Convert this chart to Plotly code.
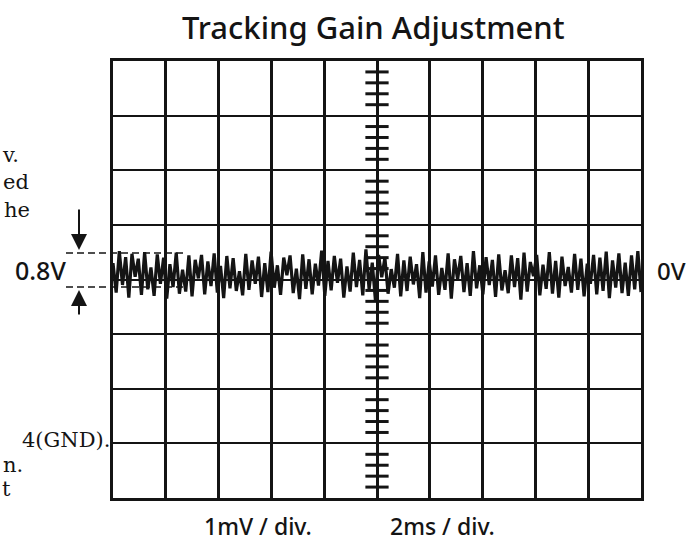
import numpy as np
import plotly.graph_objects as go

# canvas and plot box (pixels)
W, H = 695, 541
M_L, M_R, M_T, M_B = 113, 54, 61, 43

TITLE = "Tracking Gain Adjustment"
V_SCALE = "1mV / div."
T_SCALE = "2ms / div."
LEVEL_LABEL = "0.8V"
ZERO_LABEL = "0V"

# screen divisions
n_cols = 10
n_rows = 8

# fine graduation marks on the centre vertical axis (div)
grad_marks = [round(v, 1) for v in np.arange(-3.8, 4.0, 0.2) if abs(v - round(v)) > 0.05]

trace_div = [
    0.30, -0.24, 0.52, -0.10, 0.41, -0.33, 0.47, 0.05, 0.38, -0.28,
    0.50, -0.18, 0.22, -0.30, 0.46, -0.08, 0.40, -0.35, 0.28, -0.14,
    0.49, -0.26, 0.18, -0.22, 0.44, -0.31, 0.36, 0.02, 0.45, -0.27,
    0.33, -0.12, 0.48, -0.24, 0.25, -0.34, 0.43, -0.16, 0.39, -0.21,
    0.15, -0.29, 0.47, -0.19, 0.35, -0.08, 0.42, -0.32, 0.30, -0.23,
    0.51, -0.15, 0.26, -0.28, 0.40, 0.08, 0.44, -0.25, 0.20, -0.36,
    0.46, -0.17, 0.37, -0.27, 0.29, -0.11, 0.53, -0.30, 0.34, -0.20,
    0.43, -0.06, 0.38, -0.33, 0.24, -0.22, 0.49, -0.14, 0.36, -0.29,
    0.55, -0.18, 0.31, -0.38, 0.45, 0.04, 0.40, -0.26, 0.19, -0.15,
    0.47, -0.31, 0.35, -0.21, 0.42, -0.09, 0.28, -0.34, 0.50, -0.24,
    0.33, -0.13, 0.44, -0.28, 0.21, -0.19, 0.48, -0.35, 0.37, 0.00,
    0.43, -0.23, 0.30, -0.30, 0.52, -0.16, 0.26, -0.27, 0.41, -0.10,
    0.36, -0.32, 0.46, -0.20, 0.17, -0.25, 0.44, -0.14, 0.39, -0.37,
    0.49, -0.22, 0.32, 0.06, 0.45, -0.29, 0.27, -0.17, 0.50, -0.26,
    0.34, -0.33, 0.42, -0.12, 0.23, -0.24, 0.47, -0.19, 0.38, -0.31,
    0.29, -0.08, 0.45, -0.27, 0.40, -0.21, 0.51, -0.34, 0.35, -0.15,
    0.48, -0.25, 0.31, -0.30, 0.44, -0.18, 0.52, -0.23,
]

# clipped body text from the facing page (left edge)
side_text = ["v.", "ed", "he", "4(GND).", "n.", "t"]
side_text_y = [155, 182, 210, 440, 465, 489]
side_text_right = [21, 31, 32, 112, 25, 13]

INK = "#141414"
plot_w = W - M_L - M_R
plot_h = H - M_T - M_B


def px_x(px):
    return (px - M_L) / plot_w


def px_y(py):
    return (H - M_B - py) / plot_h


fig = go.Figure()

# graduated centre axis
gx, gy = [], []
for v in grad_marks:
    gx += [n_cols / 2 - 0.22, n_cols / 2 + 0.22, None]
    gy += [v, v, None]
fig.add_trace(go.Scatter(x=gx, y=gy, mode="lines",
                         line=dict(color=INK, width=3), hoverinfo="skip"))

# the signal
t = np.linspace(0, n_cols, len(trace_div))
fig.add_trace(go.Scatter(x=t, y=trace_div, mode="lines",
                         line=dict(color=INK, width=3.2), hoverinfo="skip"))

sans = "Noto Sans"
annotations = [
    dict(text=TITLE, x=px_x(373), y=px_y(27), font=dict(size=31, family=sans, weight=500)),
    dict(text=V_SCALE, x=px_x(258), y=px_y(526), font=dict(size=23, family=sans, weight=500)),
    dict(text=T_SCALE, x=px_x(442), y=px_y(526), font=dict(size=23, family=sans, weight=500)),
    dict(text=ZERO_LABEL, x=px_x(655), y=px_y(270), xanchor="left",
         font=dict(size=24, family=sans, weight=500)),
    dict(text=LEVEL_LABEL, x=px_x(68), y=px_y(270), xanchor="right",
         font=dict(size=25, family=sans, weight=500)),
]
for txt, ty, tr in zip(side_text, side_text_y, side_text_right):
    annotations.append(dict(text=txt, x=px_x(tr), y=px_y(ty), xanchor="right",
                            font=dict(size=21, family="DejaVu Serif")))
for a in annotations:
    a.update(xref="paper", yref="paper", showarrow=False, yanchor="middle",
             xanchor=a.get("xanchor", "center"))
    a["font"]["color"] = INK

# 0.8V arrows
annotations.append(dict(x=px_x(79), y=px_y(250), xref="paper", yref="paper",
                        ax=0, ay=-42, showarrow=True, arrowhead=2, arrowsize=1.6,
                        arrowwidth=2, arrowcolor=INK, text=""))
annotations.append(dict(x=px_x(79), y=px_y(290), xref="paper", yref="paper",
                        ax=0, ay=26, showarrow=True, arrowhead=2, arrowsize=1.6,
                        arrowwidth=2, arrowcolor=INK, text=""))

shapes = []
for py in (253, 287):
    shapes.append(dict(type="line", xref="paper", yref="paper",
                       x0=px_x(66), x1=px_x(185), y0=px_y(py), y1=px_y(py),
                       line=dict(color=INK, width=1.5, dash="7px,4px")))

axis_common = dict(showgrid=True, gridcolor=INK, showline=True, linecolor=INK,
                   mirror=True, ticks="", showticklabels=False, zeroline=False,
                   fixedrange=True)

fig.update_layout(
    width=W, height=H,
    margin=dict(l=M_L, r=M_R, t=M_T, b=M_B),
    paper_bgcolor="white", plot_bgcolor="white",
    showlegend=False,
    xaxis=dict(range=[0, n_cols], dtick=1, gridwidth=3, linewidth=3, **axis_common),
    yaxis=dict(range=[-n_rows / 2, n_rows / 2], dtick=1, gridwidth=2, linewidth=3,
               **axis_common),
    annotations=annotations,
    shapes=shapes,
)

# the page has a default 8px body margin; drop it so the figure sits at the origin
fig.write_html("out.html", config={"displayModeBar": False},
               post_script="document.body.style.margin='0';")
